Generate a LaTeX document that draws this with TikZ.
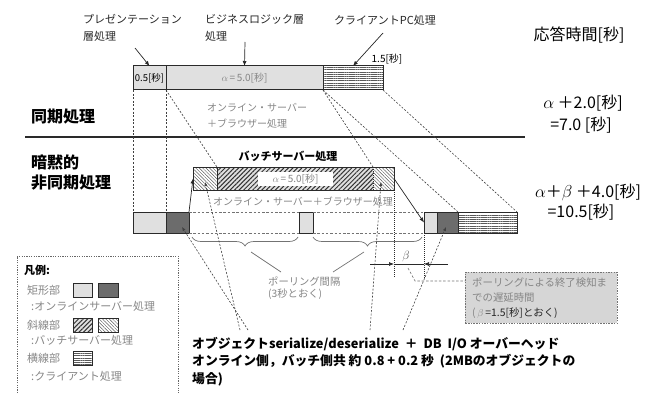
\documentclass[tikz,border=0pt]{standalone}
\usepackage{fontspec}
\setmainfont{Noto Sans CJK JP}
\usetikzlibrary{arrows.meta,patterns.meta,decorations.pathreplacing}
\definecolor{lgray}{HTML}{E0E0E0}
\definecolor{dgray}{HTML}{6C6C6C}
\definecolor{tgray}{HTML}{858585}
\definecolor{cfill}{HTML}{D6D6D6}
\definecolor{edge}{HTML}{2A2A2A}
\newcommand{\fs}[2]{\fontsize{#1}{#2}\selectfont}
\begin{document}
\begin{tikzpicture}[x=1pt,y=-1pt,
  seg/.style={draw=edge,line width=1pt,inner sep=0pt,outer sep=0pt,anchor=north west},
  lbox/.style={seg,fill=lgray},
  dbox/.style={seg,fill=dgray},
  dhatch/.style={seg,preaction={fill=lgray},pattern={Lines[angle=45,distance=3.2pt,line width=1pt]},pattern color=black!80},
  lhatch/.style={seg,preaction={fill=white},pattern={Lines[angle=-45,distance=2.4pt,line width=0.45pt]},pattern color=black!65},
  hlin/.style={seg,preaction={fill=white},pattern={Lines[angle=0,distance=2.2pt,line width=0.5pt]},pattern color=black!65},
  dsh/.style={draw=black!75,line width=0.6pt,dash pattern=on 2pt off 1.6pt},
  gdsh/.style={draw=black!55,line width=0.6pt,dash pattern=on 2.5pt off 1.8pt},
  arr/.style={-{Latex[length=5pt,width=4pt]},line width=0.7pt,draw=black!85},
  darr/.style={dsh,-{Latex[length=4pt,width=3.2pt]}},
  lbl/.style={font=\fs{11}{17},align=left,inner sep=0pt,anchor=north west},
  txt/.style={inner sep=0pt},
  big/.style={font=\fs{16}{20}\bfseries,inner sep=0pt},
]
\useasboundingbox (0,0) rectangle (658,393);

% ---------- top labels ----------
\node[lbl,text=black!85] (tpres) at (83,14.5) {プレゼンテーション\\層処理};
\node[lbl,text=black!85] (tbiz) at (205,14.5) {ビジネスロジック層\\処理};
\node[txt,font=\fs{11}{13},text=black!85] (tcli) at (385,20) {クライアントPC処理};
\node[txt,font=\fs{10}{12}] (t15) at (387,59) {1.5[秒]};
\node[txt,font=\fs{16}{20}] (resp) at (579,35) {応答時間[秒]};

% ---------- synchronous bar ----------
\node[lbox,minimum width=33pt,minimum height=24pt] (pres) at (133,66) {};
\node[lbox,minimum width=157pt,minimum height=24pt] (biz) at (166,66) {};
\node[hlin,minimum width=60pt,minimum height=24pt] (cli) at (323,66) {};
\node[txt,font=\fs{9.5}{11}] (p05) at (pres.center) {0.5[秒]};
\node[txt,font=\fs{10}{12},text=tgray] (pa) at (biz.center) {$\alpha$\,=\,5.0[秒]};

\coordinate (a1) at (135,48);
\coordinate (a2) at (245,42);
\coordinate (a3) at (383,33);
\draw[arr] (a1) -- (pres.north);
\draw[arr] (a2) -- (biz.north);
\draw[arr] (a3) -- (cli.north);

\node[lbl,font=\fs{10}{16},text=tgray] (osb1) at (207,103) {オンライン・サーバー\\＋ブラウザー処理};

% ---------- left labels ----------
\node[big,anchor=west] (sync) at (31,117) {同期処理};
\node[big,anchor=west] (async1) at (31,162) {暗黙的};
\node[big,anchor=west] (async2) at (31,183) {非同期処理};
\draw[line width=1.5pt,edge] (25,137) -- (525,137);

% ---------- right labels ----------
\node[txt,font=\fs{16}{20}] (r1) at (583,103) {$\alpha$ ＋2.0[秒]};
\node[txt,font=\fs{16}{20}] (r2) at (581,125) {=7.0 [秒]};
\node[txt,font=\fs{16}{20}] (r3) at (588,192) {$\alpha$＋$\beta$ ＋4.0[秒]};
\node[txt,font=\fs{16}{20}] (r4) at (581,212) {=10.5[秒]};

% ---------- batch bar ----------
\node[txt,font=\fs{11}{13}\bfseries] (tbatch) at (288,156) {バッチサーバー処理};
\node[lhatch,draw=none,minimum width=24pt,minimum height=23pt] (bl) at (193,167) {};
\node[dhatch,draw=none,minimum width=156pt,minimum height=23pt] (bm) at (217,167) {};
\node[lhatch,draw=none,minimum width=21pt,minimum height=23pt] (br) at (373,167) {};
\draw[edge,line width=1pt] (bl.north west) rectangle (br.south east);
\draw[edge,line width=0.8pt] (bm.north west) -- (bm.south west);
\draw[edge,line width=0.8pt,dash pattern=on 1pt off 1pt] (bm.north east) -- (bm.south east);
\node[fill=white,inner sep=0pt,minimum width=75pt,minimum height=14pt] (bwin) at (295.5,179) {};
\node[txt,font=\fs{10}{12},text=tgray] (ba) at (bwin.center) {$\alpha$\,=\,5.0[秒]};

\node[txt,font=\fs{10}{12},text=tgray] (osb2) at (303,202) {オンライン・サーバー＋ブラウザー処理};

% ---------- online bar ----------
\node[lbox,minimum width=33pt,minimum height=21pt] (o1) at (133,212) {};
\node[dbox,minimum width=23pt,minimum height=21pt] (o2) at (166,212) {};
\node[lbox,minimum width=14pt,minimum height=21pt] (o3) at (299,212) {};
\node[lbox,minimum width=13pt,minimum height=21pt] (o4) at (424,212) {};
\node[dbox,minimum width=21pt,minimum height=21pt] (o5) at (437,212) {};
\node[hlin,minimum width=59pt,minimum height=21pt] (o6) at (458,212) {};
\draw[gdsh] (o2.north east) -- (o3.north west);
\draw[gdsh] (o3.north east) -- (o4.north west);
\draw[gdsh] (o2.south east) -- (o3.south west);
\draw[gdsh] (o3.south east) -- (o4.south west);

% vertical guides from the top bar
\draw[dsh] (pres.south west) -- (o1.north west);
\draw[dsh] (pres.south east) -- (o1.north east);
% diagonal guides
\draw[dsh] (pres.south east) -- (bm.north west);
\draw[dsh] (biz.south east) -- (br.north west);
\draw[dsh] (biz.south east) -- (o6.north west);
\draw[dsh] (cli.south east) -- (o6.north east);

% hand-over arrows
\draw[arr] (o2.north east) -- (bl.west);
\draw[arr] (br.east) -- (o4.west);

% ---------- braces ----------
\coordinate (b1s) at (192,237);
\coordinate (b1e) at (298,237);
\coordinate (b2s) at (313,237);
\coordinate (b2e) at (422,237);
\draw[decorate,decoration={brace,amplitude=9pt,mirror},draw=black!55,line width=0.7pt] (b1s) -- (b1e);
\draw[decorate,decoration={brace,amplitude=9pt,mirror},draw=black!55,line width=0.7pt] (b2s) -- (b2e);
\node[lbl,font=\fs{10.3}{12},text=tgray] (poll) at (268,276.5) {ポーリング間隔\\(3秒とおく)};
\coordinate (bt1) at (251,252);
\coordinate (bt2) at (364,252);
\draw[black!55,line width=0.7pt] (bt1) -- (281,272);
\draw[black!55,line width=0.7pt] (bt2) -- (333,272);

% ---------- beta ----------
\draw[edge,line width=0.8pt,dash pattern=on 1pt off 1pt] (br.south east) -- (394,278);
\draw[edge,line width=0.8pt,dash pattern=on 1pt off 1pt] (o4.south west) -- (424,278);
\coordinate (be1) at (370,264);
\coordinate (be2) at (448,264);
\draw[arr] (be1) -- (394,264);
\draw[arr] (be2) -- (424,264);
\draw[edge,line width=0.8pt] (394,264) -- (424,264);
\node[txt,font=\fs{12}{14},text=black!70] (beta) at (406,256) {$\beta$};

\node[draw=black!55,dash pattern=on 1.5pt off 1.2pt,line width=0.7pt,fill=cfill,anchor=north west,minimum width=152pt,minimum height=51pt,inner sep=0pt] (note) at (465,272) {};
\node[lbl,font=\fs{10.4}{15},text=tgray] (notet) at (472,277.8) {ポーリングによる終了検知ま\\での遅延時間\\(\,$\beta$\,{\color{black!85}=1.5[秒]とおく)}};
\coordinate (nc1) at (408,268);
\coordinate (nc2) at (415,281);
\draw[gdsh] (nc1) -- (nc2) -- (note.west |- nc2);

% ---------- overhead arrows ----------
\coordinate (ov1) at (248,330);
\coordinate (ov2) at (240,330);
\coordinate (ov3) at (370,330);
\coordinate (ov4) at (403,330);
\draw[darr] (ov1) -- (182,227);
\draw[darr] (ov2) -- (205,182);
\draw[darr] (ov3) -- (381,182);
\draw[darr] (ov4) -- (446,227);

\node[lbl,font=\fs{12.8}{17.5}\bfseries] (over) at (192,336.6) {オブジェクトserialize/deserialize\ \ ＋\ \ DB\ \ I/O\ オーバーヘッド\\オンライン側，バッチ側共\ 約 0.8 +\ 0.2 秒\ \ (2MBのオブジェクトの\\場合)};

% ---------- legend ----------
\draw[black!60,line width=0.8pt,dash pattern=on 1.2pt off 1.2pt] (17,393) -- (17,256) -- (178,256) -- (178,393);
\node[txt,anchor=west,font=\fs{11}{13}\bfseries] (lg0) at (24,270) {凡例:};
\node[txt,anchor=west,font=\fs{11}{13},text=tgray] (lg1) at (27,290) {矩形部};
\node[lbox,minimum width=19pt,minimum height=14pt] (k1) at (73,283) {};
\node[dbox,minimum width=20pt,minimum height=14pt] (k2) at (98,283) {};
\node[txt,anchor=west,font=\fs{11}{13},text=tgray] (lg2) at (31,306) {:オンラインサーバー処理};
\node[txt,anchor=west,font=\fs{11}{13},text=tgray] (lg3) at (27,325) {斜線部};
\node[dhatch,minimum width=19pt,minimum height=14pt] (k3) at (73,318) {};
\node[lhatch,minimum width=20pt,minimum height=14pt] (k4) at (98,318) {};
\node[txt,anchor=west,font=\fs{11}{13},text=tgray] (lg4) at (31,340) {:バッチサーバー処理};
\node[txt,anchor=west,font=\fs{11}{13},text=tgray] (lg5) at (27,358) {横線部};
\node[hlin,minimum width=19pt,minimum height=14pt] (k5) at (73,351) {};
\node[txt,anchor=west,font=\fs{11}{13},text=tgray] (lg6) at (31,376) {:クライアント処理};
\end{tikzpicture}
\end{document}
